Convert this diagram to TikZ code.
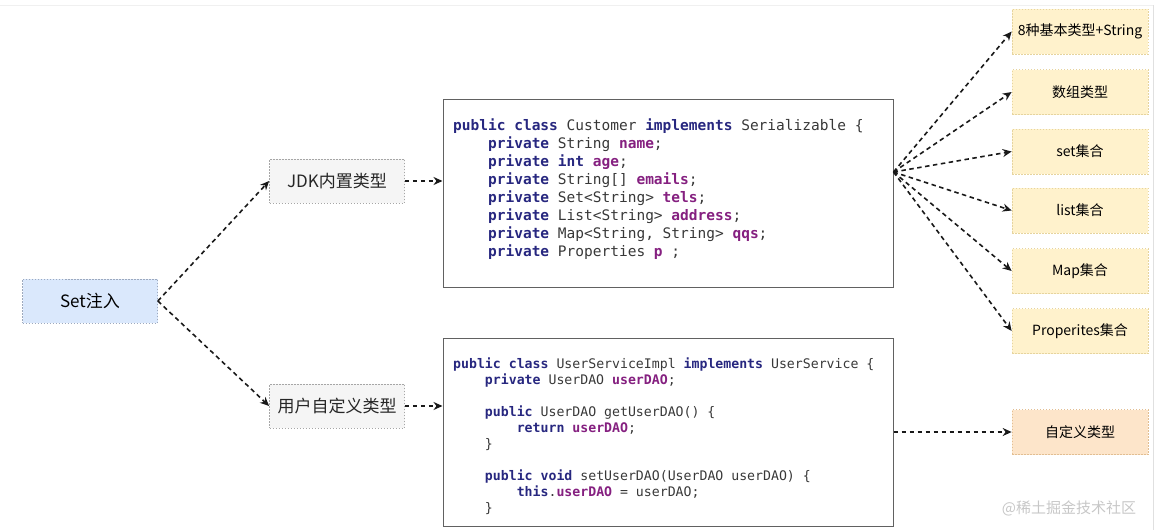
\documentclass[tikz,border=0pt]{standalone}
\usepackage{fontspec}
\setmainfont{Noto Sans CJK SC}
\setmonofont{DejaVu Sans Mono}
\usepackage{xcolor}
\usepackage{tikz}
\usetikzlibrary{arrows.meta}

\definecolor{setblue}{HTML}{DAE8FC}
\definecolor{setline}{HTML}{9DA9BE}
\definecolor{jdkgray}{HTML}{F5F5F5}
\definecolor{typeyellow}{HTML}{FFF2CC}
\definecolor{typeline}{HTML}{E6D49E}
\definecolor{typeorange}{HTML}{FDE5CA}
\definecolor{orangeline}{HTML}{E2BE92}
\definecolor{kwblue}{HTML}{27277F}
\definecolor{fldpurple}{HTML}{852080}

\newcommand{\kw}[1]{\textbf{\color{kwblue}#1}}
\newcommand{\fld}[1]{\textbf{\color{fldpurple}#1}}
\newcommand{\codeind}{\hphantom{xxxx}}

\tikzset{
  leftbox/.style={draw=gray!70, dash pattern=on 1.5pt off 1.5pt, line width=0.7pt,
                  minimum width=135pt, minimum height=44pt, inner sep=0pt,
                  text=black!85, font=\fontsize{17}{20}\selectfont},
  typebox/.style={fill=typeyellow, draw=typeline, dash pattern=on 1.5pt off 1.5pt,
                  line width=0.7pt, minimum width=136pt, minimum height=45pt,
                  inner sep=0pt, text=black, font=\fontsize{14}{17}\selectfont},
  codebox/.style={draw=black!62, line width=1pt, minimum width=450pt,
                  minimum height=188pt, inner sep=0pt},
  codetext/.style={anchor=north west, inner sep=0pt, align=left, text=black!78},
  link/.style={-{Stealth[length=9pt,width=8pt]}, dash pattern=on 4.5pt off 3.5pt,
               line width=1.6pt, black!90},
}

\begin{document}
\begin{tikzpicture}[x=1pt,y=-1pt]
  \useasboundingbox (0,0) rectangle (1159,530);
  \draw[black!6, line width=0.8pt] (0,5) -- (1153,5);
  \draw[black!12, line width=1pt] (1153,5) -- (1153,530);

  % left side
  \node[leftbox, fill=setblue, draw=setline, text=black] (set) at (90,301) {Set注入};
  \node[leftbox, fill=jdkgray] (jdk) at (337,181) {JDK内置类型};
  \node[leftbox, fill=jdkgray] (user) at (337,406) {用户自定义类型};

  % code boxes
  \node[codebox] (code1) at (668,193) {};
  \node[codetext, font=\ttfamily\fontsize{14.5}{18}\selectfont\frenchspacing]
    (code1txt) at (453,119) {%
    \kw{public class} Customer \kw{implements} Serializable \{\\
    \codeind\kw{private} String \fld{name};\\
    \codeind\kw{private int} \fld{age};\\
    \codeind\kw{private} String[] \fld{emails};\\
    \codeind\kw{private} Set<String> \fld{tels};\\
    \codeind\kw{private} List<String> \fld{address};\\
    \codeind\kw{private} Map<String, String> \fld{qqs};\\
    \codeind\kw{private} Properties \fld{p} ;};

  \node[codebox] (code2) at (668,432) {};
  \node[codetext, font=\ttfamily\fontsize{13.2}{15.9}\selectfont\frenchspacing]
    (code2txt) at (453,358) {%
    \kw{public class} UserServiceImpl \kw{implements} UserService \{\\
    \codeind\kw{private} UserDAO \fld{userDAO};\\
    \mbox{}\\
    \codeind\kw{public} UserDAO getUserDAO() \{\\
    \codeind\codeind\kw{return} \fld{userDAO};\\
    \codeind\}\\
    \mbox{}\\
    \codeind\kw{public void} setUserDAO(UserDAO userDAO) \{\\
    \codeind\codeind\kw{this}.\fld{userDAO} = userDAO;\\
    \codeind\}};

  % right side
  \node[typebox] (basic) at (1080,31.5) {8种基本类型+String};
  \node[typebox] (array) at (1080,92) {数组类型};
  \node[typebox] (setc) at (1080,151.5) {set集合};
  \node[typebox] (listc) at (1080,210.5) {list集合};
  \node[typebox] (mapc) at (1080,271) {Map集合};
  \node[typebox] (propc) at (1080,331) {Properites集合};
  \node[typebox, fill=typeorange, draw=orangeline] (custom) at (1080,432) {自定义类型};

  \node[text=black!22, font=\fontsize{15}{18}\selectfont] (mark) at (1069,508) {@稀土掘金技术社区};

  % connectors
  \coordinate (fan) at ([yshift=21pt]code1.east);
  \draw[link] (set.east) -- (jdk.west);
  \draw[link] (set.east) -- (user.west);
  \draw[link] (jdk.east) -- (code1.west |- jdk.east);
  \draw[link] (user.east) -- (code2.west |- user.east);
  \foreach \t in {basic, array, setc, listc, mapc, propc}
    \draw[link] (fan) -- (\t.west);
  \draw[link] (code2.east) -- (custom.west);
\end{tikzpicture}
\end{document}
